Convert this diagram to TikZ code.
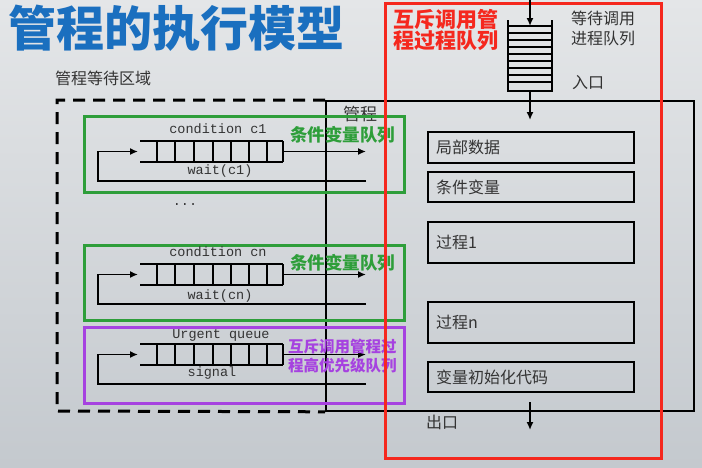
\documentclass[tikz,border=0pt]{standalone}
\usepackage{fontspec}
\setmonofont{Liberation Mono}
\newfontfamily\cjk{Noto Sans CJK SC}
\usetikzlibrary{arrows.meta}
\definecolor{titleblue}{HTML}{1A6FBF}
\definecolor{gr}{HTML}{2E9E3A}
\definecolor{pu}{HTML}{A642E0}
\definecolor{rd}{HTML}{F5281E}
\definecolor{txt}{HTML}{333333}
\definecolor{bgtop}{HTML}{E4E6E8}
\definecolor{bgbot}{HTML}{C4C9CE}
\newcommand\cjkfs[1]{\cjk\fontsize{#1}{#1}\selectfont}
\newcommand\myqueue[2]{%
  \draw[qline] (140,#1) -- (283,#1) (140,#1+21) -- (283,#1+21);
  \foreach \xx in {157,175,194,213,231,249,267,283} \draw[qline] (\xx,#1) -- (\xx,#1+21);
  \coordinate (#2in) at (138,#1+10.5);
  \coordinate (#2out) at (283,#1+10.5);
  \coordinate (#2end) at (366,#1+10.5);
  \coordinate (#2ret) at (366,#1+40);
  \coordinate (#2turn) at (98,#1+40);
  \draw[arr] (#2out) -- (#2end);
  \draw[arr] (#2ret) -- (#2turn) |- (#2in);
}
\tikzset{
  arr/.style={-{Latex[length=8pt,width=7pt]}, line width=1.7pt},
  qline/.style={line width=1.7pt},
  inbox/.style={draw, line width=2pt, minimum width=206pt, text width=190pt,
    inner xsep=8pt, inner ysep=0pt, align=left, anchor=north west,
    font=\cjkfs{16}, text=txt},
  cbox/.style={draw, line width=2.6pt, minimum width=320pt, anchor=north west, inner sep=0pt},
  mono/.style={font=\ttfamily\fontsize{13.5}{14}\selectfont, text=txt, inner sep=0pt},
  lab/.style={font=\cjkfs{16}, text=txt, inner sep=0pt, align=left},
}
\begin{document}
\begin{tikzpicture}[x=1pt,y=-1pt]
\useasboundingbox (0,0) rectangle (702,467);
\fill[top color=bgtop, bottom color=bgbot] (0,0) rectangle (702,467);

% title
\node[anchor=west, inner sep=0pt, text=titleblue, font=\cjkfs{48}\bfseries] (title) at (8,28) {管程的执行模型};

% waiting region
\node[lab, anchor=west] (waitarea) at (55,78) {管程等待区域};

% monitor box
\node[draw, line width=1.8pt, minimum width=368pt, minimum height=310pt, anchor=north west, inner sep=0pt] (mon) at (325,100) {};
\node[lab, anchor=west, font=\cjkfs{17}] (monlab) at (343,114) {管程};
\draw[line width=3pt, dash pattern=on 12pt off 8pt] (mon.north west) -- (57,100) -- (57,411) -- (mon.south west);

% condition boxes
\node[cbox, draw=gr, minimum height=76pt] (cq1) at (83,115) {};
\node[cbox, draw=gr, minimum height=75pt] (cqn) at (83,244) {};
\node[cbox, draw=pu, minimum height=76pt] (urg) at (83,326) {};

\myqueue{141}{qa}
\myqueue{264}{qb}
\myqueue{344}{qc}

\node[mono] (c1lab) at (218,129) {condition c1};
\node[mono] (w1lab) at (220,171) {wait(c1)};
\node[mono] (dots) at (185,205) {...};
\node[mono] (cnlab) at (218,252) {condition cn};
\node[mono] (wnlab) at (220,296) {wait(cn)};
\node[mono] (urlab) at (221,335) {Urgent queue};
\node[mono] (siglab) at (212,373) {signal};

\node[anchor=west, inner sep=0pt, text=gr, font=\cjkfs{17.5}\bfseries] (gl1) at (290,135) {条件变量队列};
\node[anchor=west, inner sep=0pt, text=gr, font=\cjkfs{17.5}\bfseries] (gl2) at (290,263) {条件变量队列};
\node[anchor=west, inner sep=0pt, text=pu, font=\cjk\fontsize{15.5}{19}\selectfont\bfseries, align=left] (pl) at (288,356) {互斥调用管程过\\程高优先级队列};

% inner boxes
\node[inbox, minimum height=31pt] (ld) at (427,131) {局部数据};
\node[inbox, minimum height=30pt] (cv) at (427,171) {条件变量};
\node[inbox, minimum height=41pt] (p1) at (427,221) {过程1};
\node[inbox, minimum height=41pt] (pn) at (427,301) {过程n};
\node[inbox, minimum height=30pt] (init) at (427,361) {变量初始化代码};

% red mutex queue region
\node[draw=rd, line width=3pt, minimum width=276pt, minimum height=455pt, anchor=north west, inner sep=0pt] (mutexq) at (384,2) {};
\node[anchor=north west, inner sep=0pt, text=rd, font=\cjk\fontsize{21}{21}\selectfont\bfseries, align=left] (redlab) at (393,9) {互斥调用管\\程过程队列};

% stack
\draw[line width=2.6pt] (508,20) -- (508,91) -- (552,91) -- (552,20);
\foreach \yy in {26,33,40,47,54,61,68,75,82} \draw[line width=1.6pt] (508,\yy) -- (552,\yy);
\coordinate (entry) at (530,0);
\coordinate (stacktop) at (530,26);
\coordinate (stackbot) at (530,91);
\coordinate (monin) at (530,120);
\draw[arr] (entry) -- (stacktop);
\draw[arr] (stackbot) -- (monin);
\node[lab, anchor=north west, font=\cjk\fontsize{16}{19.5}\selectfont] (wq) at (571,11) {等待调用\\进程队列};
\node[lab, anchor=west] (inlab) at (572,83) {入口};

% exit
\coordinate (exitstart) at (530,402);
\coordinate (exitend) at (530,430);
\draw[arr] (exitstart) -- (exitend);
\node[lab, anchor=west] (outlab) at (426,422) {出口};
\end{tikzpicture}
\end{document}
